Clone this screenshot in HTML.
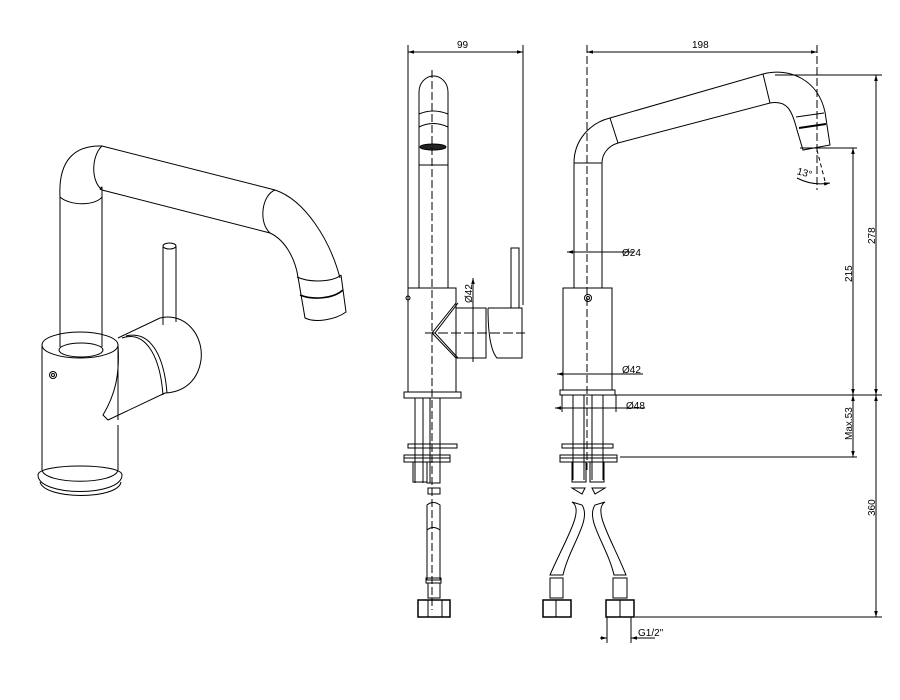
<!DOCTYPE html>
<html><head><meta charset="utf-8"><style>
html,body{margin:0;padding:0;background:#fff}
svg{display:block}
text{font-family:"Liberation Sans",sans-serif;font-size:10px;fill:#000}
</style></head><body>
<svg width="900" height="700" viewBox="0 0 900 700" xmlns="http://www.w3.org/2000/svg">
<defs>
<marker id="a" viewBox="0 0 10 10" refX="10" refY="5" markerWidth="6" markerHeight="6" orient="auto-start-reverse"><path d="M0,2L10,5L0,8z" fill="#000"/></marker>
</defs>
<g fill="none" stroke="#000" stroke-width="1">
<!-- ===== Perspective view ===== -->
<path d="M60,197 C58,160 75,145 102,146 L275,190 C305,200 330,240 340,278"/>
<path d="M102,197 L102,188 C102,185 100,190 100,190"/>
<path d="M60,197 C70,206 95,206 102,197"/>
<path d="M102,146 C92,155 90,180 102,190 L270,233 C285,240 295,258 298,277"/>
<path d="M275,190 C262,195 258,222 270,233"/>
<line x1="60" y1="197" x2="60" y2="347"/><line x1="102" y1="197" x2="102" y2="347"/>
<path d="M297,277 C310,283 333,282 341,275"/>
<path d="M300,295 C312,300 333,299 343,290" stroke-width="1.6"/>
<path d="M298,277 L305,318 C315,323 335,320 346,312 L341,275"/>
<!-- body -->
<ellipse cx="80" cy="345" rx="38" ry="13"/>
<ellipse cx="81" cy="350" rx="22" ry="7"/>
<line x1="42" y1="345" x2="42" y2="470"/><line x1="118" y1="345" x2="118" y2="420"/>
<line x1="118" y1="425" x2="118" y2="470"/>
<path d="M42,470 C45,485 115,485 118,470"/>
<path d="M38,475 C38,497 122,497 122,475 C122,463 38,463 38,475"/>
<path d="M40,482 C45,500 118,500 121,482"/>
<circle cx="53" cy="375" r="3.5"/><circle cx="53" cy="375" r="1.5"/>
<!-- handle -->
<path d="M118,338 L160,318 C185,312 204,335 201,360 C198,380 185,392 165,393 L108,420 L103,415 C115,395 120,375 118,345"/>
<path d="M122,338 C145,330 160,355 163,395"/>
<path d="M126,336 C150,330 164,355 167,393"/>
<!-- lever -->
<line x1="163" y1="247" x2="163" y2="325"/><line x1="176" y1="247" x2="176" y2="322"/>
<ellipse cx="169.5" cy="246" rx="6.5" ry="3"/>
<!-- ===== Side view ===== -->
<line x1="408" y1="45" x2="408" y2="290"/><line x1="523" y1="45" x2="523" y2="305"/>
<line x1="408" y1="52" x2="523" y2="52" marker-start="url(#a)" marker-end="url(#a)"/>
<path d="M419,288 L419,92 A14.5,16 0 0 1 448,92 L448,288"/>
<path d="M419,114 Q433,108 448,114"/><path d="M419,127 Q433,120 448,127"/>
<line x1="419" y1="165" x2="448" y2="165"/>
<ellipse cx="433" cy="147" rx="13" ry="3" fill="#222"/>
<line x1="432" y1="70" x2="432" y2="610" stroke-dasharray="8,3"/>
<rect x="408" y="288" width="48" height="104"/>
<rect x="404" y="392" width="57" height="6"/>
<path d="M456,303 L432,333 L456,358"/><path d="M458,303 L435,333 L458,358"/>
<rect x="456" y="308" width="30" height="50"/>
<path d="M488,308 L522,308 L522,358 L497,358 C490,350 488,330 488,308"/>
<rect x="511" y="248" width="8" height="60"/>
<line x1="425" y1="333" x2="525" y2="333" stroke-dasharray="10,3"/>
<line x1="473" y1="278" x2="473" y2="362" marker-start="url(#a)"/>
<circle cx="408" cy="298" r="2"/>
<line x1="415" y1="398" x2="415" y2="483"/><line x1="423" y1="398" x2="423" y2="483"/>
<line x1="430" y1="398" x2="430" y2="483"/><line x1="440" y1="398" x2="440" y2="483"/>
<rect x="408" y="444" width="49" height="4"/>
<rect x="404" y="455" width="46" height="7"/>
<line x1="404" y1="458" x2="450" y2="458"/>
<rect x="413" y="462" width="14" height="20"/><rect x="427" y="462" width="13" height="21"/>
<rect x="428" y="488" width="12" height="6"/>
<path d="M427,505 Q433,500 440,505 L440,580 L427,580 Z"/>
<path d="M427,530 Q433,525 440,530"/>
<rect x="426" y="578" width="15" height="5"/>
<rect x="428" y="583" width="12" height="15"/>
<rect x="418" y="600" width="32" height="17" stroke-width="1.5"/>
<line x1="428" y1="600" x2="428" y2="617"/><line x1="442" y1="600" x2="442" y2="617"/>
<!-- ===== Front view ===== -->
<line x1="587" y1="45" x2="587" y2="470" stroke-dasharray="8,3"/>
<line x1="817" y1="45" x2="817" y2="190" stroke-dasharray="8,3"/>
<line x1="587" y1="52" x2="817" y2="52" marker-start="url(#a)" marker-end="url(#a)"/>
<path d="M574,288 L574,163 C574,140 590,123 610,118 L763,74 C790,67 818,80 825,112 L830,145 L803,150 L797,130 C792,110 787,100 770,103 L618,143 C608,146 602,154 602,163 L602,288"/>
<line x1="610" y1="118" x2="618" y2="143"/><line x1="763" y1="74" x2="770" y2="103"/>
<line x1="796" y1="117" x2="824" y2="113"/><line x1="799" y1="128" x2="826" y2="124" stroke-width="2"/>
<line x1="574" y1="163" x2="602" y2="163"/>
<path d="M817,150 L826,185" stroke-dasharray="4,3"/>
<path d="M797,178 Q812,186 830,183" marker-end="url(#a)"/>
<rect x="563" y="288" width="49" height="102"/>
<circle cx="588" cy="298" r="3.5"/><circle cx="588" cy="298" r="1.5"/>
<rect x="560" y="390" width="55" height="5"/>
<line x1="567" y1="252" x2="634" y2="252" marker-start="url(#a)"/>
<line x1="557" y1="374" x2="643" y2="374" marker-start="url(#a)"/>
<line x1="555" y1="408" x2="645" y2="408" marker-start="url(#a)"/>
<line x1="562" y1="395" x2="562" y2="412"/><line x1="616" y1="395" x2="616" y2="412"/>
<line x1="573" y1="395" x2="573" y2="480"/><line x1="584" y1="395" x2="584" y2="480"/>
<line x1="592" y1="395" x2="592" y2="480"/><line x1="603" y1="395" x2="603" y2="480"/>
<rect x="562" y="444" width="51" height="4"/>
<rect x="560" y="455" width="57" height="7"/>
<line x1="560" y1="458" x2="617" y2="458"/>
<rect x="572" y="462" width="14" height="20"/><rect x="590" y="462" width="14" height="20"/>
<path d="M572,488 L585,488 L582,494 Z"/><path d="M605,488 L592,488 L595,494 Z"/>
<path d="M572,502 C585,510 565,540 550,575 L563,575 C570,545 592,520 582,505 Z"/>
<path d="M605,502 C592,510 612,540 626,575 L614,575 C607,545 585,520 595,505 Z"/>
<rect x="550" y="578" width="13" height="20"/><rect x="613" y="578" width="14" height="20"/>
<rect x="543" y="600" width="28" height="17" stroke-width="1.5"/>
<rect x="606" y="600" width="28" height="17" stroke-width="1.5"/>
<line x1="556" y1="600" x2="556" y2="617"/><line x1="620" y1="600" x2="620" y2="617"/>
<!-- right dims -->
<line x1="775" y1="75" x2="882" y2="75"/>
<line x1="800" y1="148" x2="857" y2="148"/>
<line x1="615" y1="395" x2="882" y2="395"/>
<line x1="620" y1="457" x2="857" y2="457"/>
<line x1="635" y1="617" x2="882" y2="617"/>
<line x1="853" y1="148" x2="853" y2="395" marker-start="url(#a)" marker-end="url(#a)"/>
<line x1="853" y1="395" x2="853" y2="457" marker-start="url(#a)" marker-end="url(#a)"/>
<line x1="876" y1="75" x2="876" y2="395" marker-start="url(#a)" marker-end="url(#a)"/>
<line x1="876" y1="395" x2="876" y2="617" marker-start="url(#a)" marker-end="url(#a)"/>
<line x1="607" y1="617" x2="607" y2="643"/><line x1="631" y1="617" x2="631" y2="643"/>
<line x1="600" y1="638" x2="607" y2="638" marker-end="url(#a)"/>
<line x1="655" y1="638" x2="631" y2="638" marker-end="url(#a)"/>
</g>
<text x="457" y="48">99</text>
<text x="692" y="48">198</text>
<text x="622" y="256">Ø24</text>
<text x="622" y="373">Ø42</text>
<text x="626" y="409">Ø48</text>
<text x="797" y="175" transform="rotate(15 800 172)">13°</text>
<text x="638" y="636">G1/2"</text>
<text transform="translate(852,282) rotate(-90)">215</text>
<text transform="translate(852,440) rotate(-90)">Max.53</text>
<text transform="translate(875,244) rotate(-90)">278</text>
<text transform="translate(875,516) rotate(-90)">360</text>
<text transform="translate(472,303) rotate(-90)">Ø42</text>
</svg>
</body></html>
